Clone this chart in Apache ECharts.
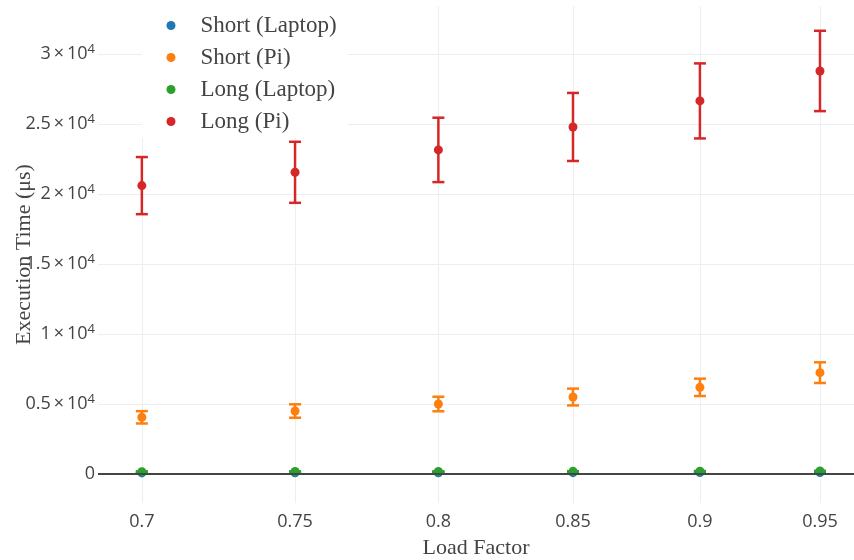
<!DOCTYPE html>
<html>
<head>
<meta charset="utf-8">
<script src="https://cdn.jsdelivr.net/npm/echarts@6/dist/echarts.min.js"></script>
<style>html,body{margin:0;padding:0;background:#fff}#c{width:854px;height:560px}</style>
</head>
<body>
<div id="c"></div>
<script>
// ---- data ----
const loadFactors = [0.7, 0.75, 0.8, 0.85, 0.9, 0.95];
const shortLaptop = [80, 85, 90, 95, 100, 110];
const shortLaptopErr = [10, 10, 10, 10, 10, 10];
const shortPi = [4050, 4500, 5000, 5500, 6190, 7240];
const shortPiErr = [440, 480, 520, 600, 620, 740];
const longLaptop = [170, 175, 180, 190, 200, 215];
const longLaptopErr = [15, 15, 15, 15, 15, 15];
const longPi = [20600, 21550, 23150, 24790, 26650, 28790];
const longPiErr = [2040, 2180, 2300, 2430, 2680, 2870];
const xTicks = [0.7, 0.75, 0.8, 0.85, 0.9, 0.95];
const yTicks = [0, 5000, 10000, 15000, 20000, 25000, 30000];

const seriesDefs = [
  {name: 'Short (Laptop)', vals: shortLaptop, err: shortLaptopErr, color: '#1f77b4'},
  {name: 'Short (Pi)', vals: shortPi, err: shortPiErr, color: '#ff7f0e'},
  {name: 'Long (Laptop)', vals: longLaptop, err: longLaptopErr, color: '#2ca02c'},
  {name: 'Long (Pi)', vals: longPi, err: longPiErr, color: '#d62728'}
];

const series = [];
seriesDefs.forEach((d, i) => {
  const color = d.color;
  series.push({
    type: 'custom',
    name: d.name + ' err',
    z: 3,
    silent: true,
    data: loadFactors.map((x, k) => [x, d.vals[k] - d.err[k], d.vals[k] + d.err[k]]),
    encode: {x: 0, y: [1, 2]},
    renderItem: function (params, api) {
      const x = api.value(0);
      const top = api.coord([x, api.value(2)]);
      const bot = api.coord([x, api.value(1)]);
      const hw = 6;
      const st = {stroke: color, lineWidth: 2.5};
      return {type: 'group', children: [
        {type: 'line', shape: {x1: top[0], y1: top[1], x2: bot[0], y2: bot[1]}, style: st},
        {type: 'line', shape: {x1: top[0] - hw, y1: top[1], x2: top[0] + hw, y2: top[1]}, style: st},
        {type: 'line', shape: {x1: bot[0] - hw, y1: bot[1], x2: bot[0] + hw, y2: bot[1]}, style: st}
      ]};
    },
    markLine: i === 0 ? {
      silent: true, symbol: 'none', label: {show: false},
      lineStyle: {color: '#444', width: 2, type: 'solid'},
      data: [{yAxis: 0}]
    } : undefined
  });
  series.push({
    type: 'scatter',
    name: d.name,
    z: 3,
    symbol: 'circle',
    symbolSize: 9,
    itemStyle: {color: color, opacity: 1},
    data: loadFactors.map((x, k) => [x, d.vals[k]])
  });
});

const chart = echarts.init(document.getElementById('c'), null, {renderer: 'canvas'});
chart.setOption({
  animation: false,
  backgroundColor: '#fff',
  grid: {left: 98, right: 0, top: 6, bottom: 57, containLabel: false, outerBoundsMode: 'none'},
  legend: {
    orient: 'vertical',
    left: 142, top: 0,
    padding: [14, 11, 5, 24.5],
    backgroundColor: '#fff',
    icon: 'circle',
    itemWidth: 9, itemHeight: 9,
    itemGap: 9,
    data: seriesDefs.map(d => d.name),
    formatter: n => '{g|}{t|' + n + '}',
    textStyle: {
      fontFamily: 'Liberation Serif', fontSize: 23, lineHeight: 23, color: '#444',
      rich: {
        g: {width: 20, fontSize: 23, lineHeight: 23},
        t: {fontFamily: 'Liberation Serif', fontSize: 23, lineHeight: 23, color: '#444'}
      }
    }
  },
  xAxis: {
    type: 'log',
    logBase: 10,
    min: 0.68631, max: 0.96467,
    name: 'Load Factor',
    nameLocation: 'middle',
    nameGap: 34,
    nameMoveOverlap: false,
    nameTextStyle: {fontFamily: 'Liberation Serif', fontSize: 22, color: '#444'},
    axisLine: {show: false},
    axisTick: {show: false, customValues: xTicks},
    axisLabel: {
      customValues: xTicks,
      margin: 10,
      fontFamily: 'Open Sans', fontSize: 18, color: '#444',
      formatter: v => String(+(+v).toFixed(2))
    },
    splitLine: {show: true, lineStyle: {color: '#eeeeee', width: 1}}
  },
  yAxis: {
    type: 'value',
    min: -2071, max: 33429,
    name: 'Execution Time (μs)',
    nameLocation: 'middle',
    nameGap: 63,
    nameMoveOverlap: false,
    nameTextStyle: {fontFamily: 'Liberation Serif', fontSize: 22, color: '#444'},
    axisLine: {show: false},
    axisTick: {show: false, customValues: yTicks},
    axisLabel: {
      customValues: yTicks,
      margin: 3,
      fontFamily: 'Open Sans', fontSize: 18, color: '#444',
      formatter: v => v === 0 ? '{m|0}' : '{m|' + (v / 10000) + '\u2009×\u2009' + '10}{s|4}',
      rich: {
        m: {fontFamily: 'Open Sans', fontSize: 18, color: '#444', lineHeight: 22},
        s: {fontFamily: 'Open Sans', fontSize: 13, color: '#444', lineHeight: 13, verticalAlign: 'top'}
      }
    },
    splitLine: {show: true, lineStyle: {color: '#eeeeee', width: 1}}
  },
  series: series
});
</script>
</body>
</html>
